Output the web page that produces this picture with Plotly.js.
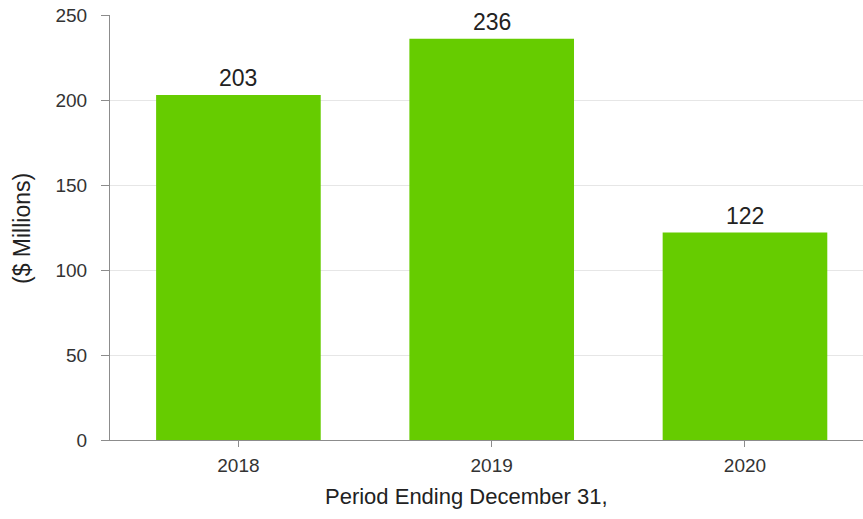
<!DOCTYPE html>
<html>
<head>
<meta charset="utf-8">
<script src="https://cdn.plot.ly/plotly-3.0.1.min.js"></script>
<style>html,body{margin:0;padding:0;background:#fff;}#chart{width:863px;height:519px;}</style>
</head>
<body>
<div id="chart"></div>
<script>
const categories = ["2018", "2019", "2020"];
const values = [203, 236, 122];
const yTicks = [0, 50, 100, 150, 200, 250];
const xTitle = "Period Ending December 31,";
const yTitle = "($ Millions)";

const FONT = "Liberation Sans, Arial, sans-serif";

const trace = {
  type: "bar",
  x: categories,
  y: values,
  marker: {color: "#66cc00"},
  hoverinfo: "skip"
};

const labelAnnotations = categories.map((c, i) => ({
  x: i, y: values[i], xref: "x", yref: "y",
  text: String(values[i]),
  showarrow: false, yanchor: "bottom", yshift: 2,
  font: {family: FONT, size: 23, color: "#222"}
}));

const layout = {
  width: 863, height: 519,
  margin: {l: 110, r: 0, t: 15, b: 79},
  paper_bgcolor: "#fff", plot_bgcolor: "#fff",
  bargap: 0.35,
  showlegend: false,
  font: {family: FONT, color: "#333"},
  xaxis: {
    type: "category",
    range: [-0.507, 2.466],
    showgrid: false,
    showline: true, linecolor: "#8c8c8c", linewidth: 1,
    ticks: "outside", ticklen: 6, tickcolor: "#8c8c8c",
    tickfont: {family: FONT, size: 19, color: "#333"},
    ticklabelstandoff: 2,
    zeroline: false
  },
  yaxis: {
    range: [0, 250],
    tickvals: yTicks,
    ticktext: yTicks.map(String),
    showgrid: true, gridcolor: "#e6e6e6", gridwidth: 1,
    showline: true, linecolor: "#8c8c8c", linewidth: 1,
    ticks: "outside", ticklen: 8, tickcolor: "#8c8c8c",
    tickfont: {family: FONT, size: 19, color: "#333"},
    ticklabelstandoff: 10,
    zeroline: false
  },
  annotations: labelAnnotations.concat([
    {
      xref: "paper", yref: "paper", x: (466 - 110) / 753, y: (440 - 497) / 425,
      xanchor: "center", yanchor: "middle", showarrow: false,
      text: xTitle, font: {family: FONT, size: 22, color: "#222"}
    },
    {
      xref: "paper", yref: "paper", x: (22 - 110) / 753, y: (440 - 229) / 425,
      xanchor: "center", yanchor: "middle", showarrow: false, textangle: -90,
      text: yTitle, font: {family: FONT, size: 23, color: "#222"}
    }
  ])
};

Plotly.newPlot("chart", [trace], layout, {displayModeBar: false, staticPlot: true});
</script>
</body>
</html>
